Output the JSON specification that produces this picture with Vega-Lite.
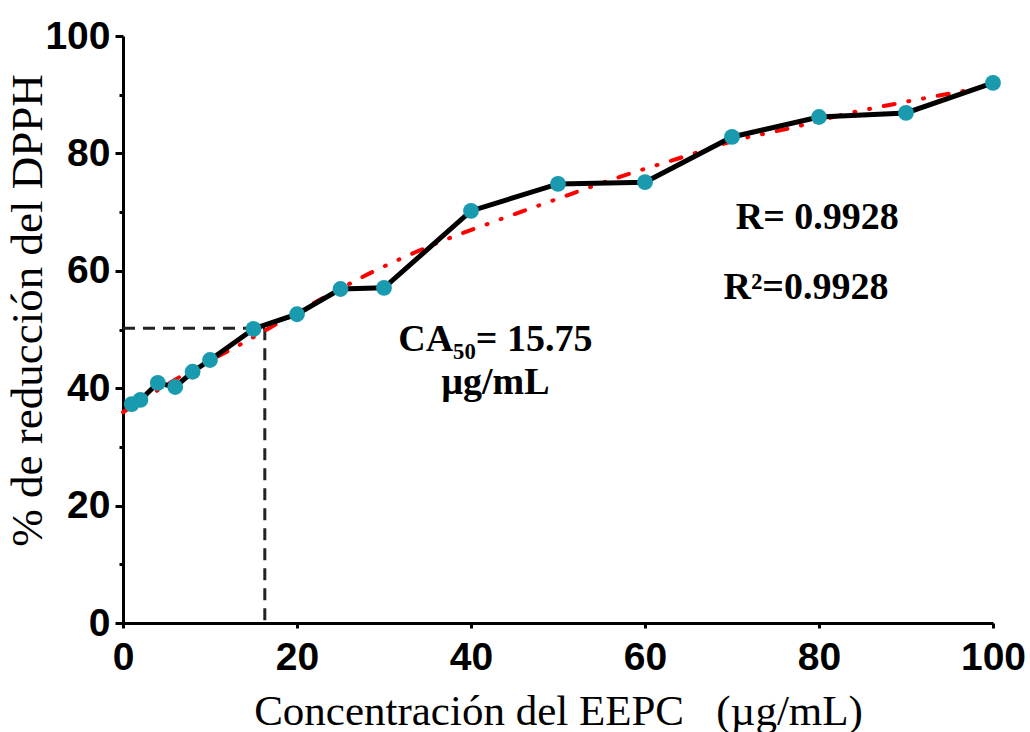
{
  "$schema": "https://vega.github.io/schema/vega-lite/v6.json",
  "width": 870,
  "height": 587,
  "autosize": {"type": "none"},
  "padding": {"left": 123, "top": 36, "right": 37, "bottom": 109},
  "background": "white",
  "config": {
    "view": {"stroke": null},
    "axis": {"grid": false}
  },
  "datasets": {
    "obs": [
      {"conc": 1, "pct": 37.3},
      {"conc": 2, "pct": 38.0},
      {"conc": 4, "pct": 40.9},
      {"conc": 6, "pct": 40.2},
      {"conc": 8, "pct": 42.8},
      {"conc": 10, "pct": 44.8},
      {"conc": 15, "pct": 50.1},
      {"conc": 20, "pct": 52.6},
      {"conc": 25, "pct": 56.9},
      {"conc": 30, "pct": 57.1},
      {"conc": 40, "pct": 70.2},
      {"conc": 50, "pct": 74.8},
      {"conc": 60, "pct": 75.1},
      {"conc": 70, "pct": 82.8},
      {"conc": 80, "pct": 86.2},
      {"conc": 90, "pct": 86.9},
      {"conc": 100, "pct": 92.0}
    ],
    "fit": [
      {"conc": 0, "pct": 35.9},
      {"conc": 6.5, "pct": 41.9},
      {"conc": 13.8, "pct": 47.7},
      {"conc": 16.9, "pct": 50.3},
      {"conc": 22.3, "pct": 54.8},
      {"conc": 28.4, "pct": 59.6},
      {"conc": 36.4, "pct": 64.9},
      {"conc": 42.5, "pct": 68.3},
      {"conc": 50.2, "pct": 72.4},
      {"conc": 56.3, "pct": 75.6},
      {"conc": 64.4, "pct": 79.4},
      {"conc": 70.6, "pct": 82.3},
      {"conc": 76.7, "pct": 84.3},
      {"conc": 83.6, "pct": 86.9},
      {"conc": 89.3, "pct": 88.6},
      {"conc": 95.4, "pct": 90.3},
      {"conc": 100, "pct": 91.6}
    ],
    "guide": [
      {"seg": "h", "conc": 0, "pct": 50.2},
      {"seg": "h", "conc": 16.3, "pct": 50.2},
      {"seg": "v", "conc": 16.3, "pct": 50.2},
      {"seg": "v", "conc": 16.3, "pct": 0}
    ],
    "notes": [
      {"label": "CA₅₀= 15.75", "conc": 42.8, "pct": 48.2},
      {"label": "µg/mL", "conc": 42.8, "pct": 40.9},
      {"label": "R= 0.9928", "conc": 79.8, "pct": 69.0},
      {"label": "R²=0.9928", "conc": 78.5, "pct": 57.1}
    ]
  },
  "resolve": {"axis": {"y": "independent", "x": "independent"}},
  "layer": [
    {
      "encoding": {
        "x": {
          "field": "conc", "type": "quantitative",
          "scale": {"domain": [0, 100], "nice": false, "zero": true},
          "axis": {
            "orient": "bottom",
            "title": "Concentración del EEPC\u00a0\u00a0\u00a0(µg/mL)",
            "values": [0, 20, 40, 60, 80, 100],
            "domainColor": "black", "domainWidth": 3,
            "tickColor": "black", "tickWidth": 3, "tickSize": 5,
            "labelFont": "Liberation Sans", "labelFontWeight": "bold", "labelFontSize": 39,
            "labelColor": "black", "labelPadding": 10, "labelFlush": false,
            "titleFont": "Liberation Serif", "titleFontWeight": "normal", "titleFontSize": 43,
            "titleColor": "black", "titlePadding": 13
          }
        },
        "y": {
          "field": "pct", "type": "quantitative",
          "scale": {"domain": [0, 100], "nice": false},
          "axis": {
            "orient": "left",
            "title": "% de reducción del DPPH",
            "values": [0, 20, 40, 60, 80, 100],
            "domainColor": "black", "domainWidth": 3,
            "tickColor": "black", "tickWidth": 3, "tickSize": 8,
            "labelFont": "Liberation Sans", "labelFontWeight": "bold", "labelFontSize": 39,
            "labelColor": "black", "labelPadding": 5, "labelFlush": false,
            "titleFont": "Liberation Serif", "titleFontWeight": "normal", "titleFontSize": 45,
            "titleColor": "black", "titlePadding": -6, "titleY": 274
          }
        }
      },
      "layer": [
        {
          "data": {"name": "guide"},
          "mark": {"type": "line", "color": "#222222", "strokeWidth": 3, "strokeDash": [12, 8]},
          "encoding": {"detail": {"field": "seg"}}
        },
        {
          "data": {"name": "fit"},
          "mark": {"type": "line", "color": "#ff0000", "strokeWidth": 4, "interpolate": "monotone", "strokeCap": "round", "strokeDash": [11, 14, 1, 14, 1, 14]},
          "encoding": {}
        },
        {
          "data": {"name": "obs"},
          "mark": {"type": "line", "color": "black", "strokeWidth": 5},
          "encoding": {}
        },
        {
          "data": {"name": "obs"},
          "mark": {"type": "point", "filled": true, "color": "#1a9aae", "opacity": 1, "size": 250},
          "encoding": {}
        },
        {
          "data": {"name": "notes"},
          "mark": {"type": "text", "font": "Liberation Serif", "fontWeight": "bold", "fontSize": 38, "color": "black", "align": "center", "baseline": "middle"},
          "encoding": {"text": {"field": "label"}}
        }
      ]
    },
    {
      "data": {"name": "obs"},
      "mark": {"type": "point", "opacity": 0},
      "encoding": {
        "x": {"field": "conc", "type": "quantitative", "axis": null},
        "y": {
          "field": "pct", "type": "quantitative",
          "axis": {
            "orient": "left",
            "title": null,
            "values": [10, 30, 50, 70, 90],
            "labels": false, "domain": false,
            "tickColor": "black", "tickWidth": 3, "tickSize": 4
          }
        }
      }
    }
  ]
}
